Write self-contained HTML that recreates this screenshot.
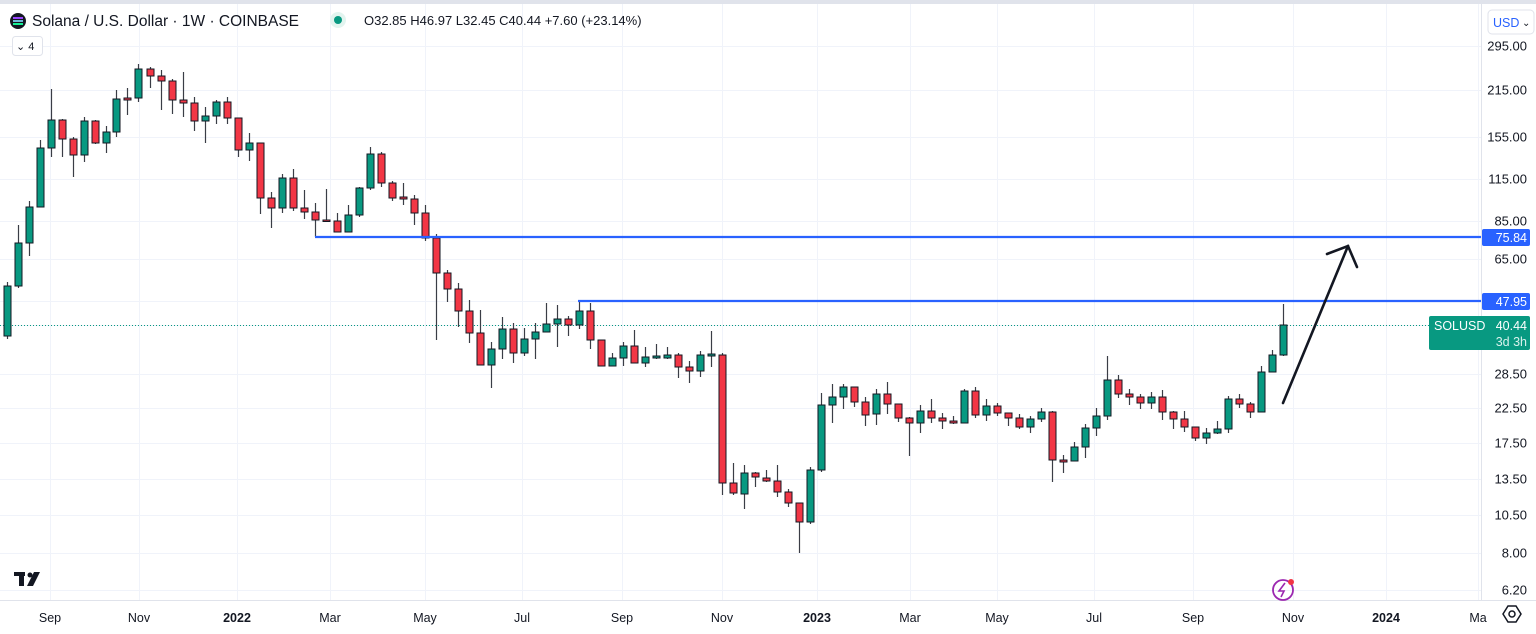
<!DOCTYPE html>
<html><head><meta charset="utf-8"><style>
html,body{margin:0;padding:0;background:#fff;width:1536px;height:634px;overflow:hidden;font-family:"Liberation Sans","DejaVu Sans",sans-serif}
</style></head><body>
<svg id="c" width="1536" height="634" xmlns="http://www.w3.org/2000/svg" style="position:absolute;left:0;top:0">
<rect x="0" y="0" width="1536" height="4" fill="#e0e3eb"/>
<g id="grid" stroke="#f0f3fa" stroke-width="1"></g>
<line x1="1481.5" y1="4" x2="1481.5" y2="600" stroke="#e0e3eb"/>
<line x1="0" y1="600.5" x2="1536" y2="600.5" stroke="#e0e3eb"/>
<line x1="0" y1="325.5" x2="1481" y2="325.5" stroke="#089981" stroke-dasharray="1,2" stroke-width="1"/>
<g id="candles"></g>
<line x1="315" y1="237" x2="1481" y2="237" stroke="#2962ff" stroke-width="2.2"/>
<line x1="578" y1="301" x2="1481" y2="301" stroke="#2962ff" stroke-width="2.2"/>
<g stroke="#131722" stroke-width="2.6" fill="none" stroke-linecap="round">
<line x1="1283" y1="403" x2="1348" y2="246"/>
<polyline points="1327,254 1348,246 1357,267"/>
</g>
<g id="labels" font-size="13" fill="#131722"></g>
<rect x="1482" y="229" width="48" height="17" rx="2" fill="#2962ff"/>
<text x="1527" y="242" font-size="12.5" fill="#fff" text-anchor="end">75.84</text>
<rect x="1482" y="293" width="48" height="17" rx="2" fill="#2962ff"/>
<text x="1527" y="306" font-size="12.5" fill="#fff" text-anchor="end">47.95</text>
<rect x="1429" y="316" width="101" height="34" rx="2" fill="#089981"/>
<text x="1434" y="330" font-size="12.5" fill="#fff">SOLUSD</text>
<text x="1527" y="330" font-size="12.5" fill="#fff" text-anchor="end">40.44</text>
<text x="1527" y="346" font-size="12.5" fill="#d8f2ec" text-anchor="end">3d 3h</text>
<rect x="1488" y="10" width="46" height="24" rx="4" fill="#fff" stroke="#e0e3eb"/>
<text x="1493" y="27" font-size="12.5" fill="#2962ff">USD</text>
<text x="1522" y="26" font-size="10" fill="#131722">⌄</text>
<circle cx="18" cy="21" r="8" fill="#131722"/>
<rect x="13" y="17" width="10" height="2" fill="#9945ff"/><rect x="13" y="20" width="10" height="2" fill="#6fb7d8"/><rect x="13" y="23" width="10" height="2" fill="#14f195"/>
<text x="32" y="26" font-size="15.5" fill="#131722">Solana / U.S. Dollar · 1W · COINBASE</text>
<circle cx="338" cy="20" r="8" fill="#e2f4ef"/><circle cx="338" cy="20" r="4" fill="#089981"/>
<text x="364" y="25" font-size="13" fill="#131722">O32.85 H46.97 L32.45 C40.44 +7.60 (+23.14%)</text>
<rect x="12.5" y="36.5" width="30" height="19" rx="3" fill="#fff" stroke="#e0e3eb"/>
<text x="16" y="50" font-size="11" fill="#131722">⌄ 4</text>
<g fill="#131722"><rect x="14" y="572" width="11" height="4"/><rect x="19" y="572" width="5" height="14"/><circle cx="30" cy="575" r="2.5"/><polygon points="34,572 40,572 33,586 27,586"/></g>
<circle cx="1283" cy="590" r="10" fill="none" stroke="#9c27b0" stroke-width="1.8"/>
<path d="M1285,583 L1279,591 L1284,591 L1281,597" stroke="#9c27b0" stroke-width="1.6" fill="none"/>
<circle cx="1291" cy="582" r="3" fill="#f23645"/>
<polygon points="1503,614 1508,606 1516,606 1521,614 1516,622 1508,622" fill="none" stroke="#131722" stroke-width="1.5"/>
<circle cx="1512" cy="614" r="3" fill="none" stroke="#131722" stroke-width="1.5"/>
</svg>
<script>
var ns="http://www.w3.org/2000/svg";
function el(p,t,a,txt){var e=document.createElementNS(ns,t);for(var k in a)e.setAttribute(k,a[k]);if(txt)e.textContent=txt;p.appendChild(e);return e;}
var grid=document.getElementById('grid'),lab=document.getElementById('labels'),cg=document.getElementById('candles');
var prices=[[295,46],[215,90],[155,137],[115,179],[85,221],[65,259],[28.5,374],[22.5,408],[17.5,443],[13.5,479],[10.5,515],[8,553],[6.2,590]];
var gy=[46,90,137,179,221,259,301,325,374,408,443,479,515,553,590];
gy.forEach(function(y){el(grid,'line',{x1:0,x2:1481,y1:y+.5,y2:y+.5});});
prices.forEach(function(p){el(lab,'text',{x:1527,y:p[1]+4.5,'text-anchor':'end','font-size':'13'},p[0].toFixed(2));});
var months=[["Sep",50],["Nov",139],["2022",237,1],["Mar",330],["May",425],["Jul",522],["Sep",622],["Nov",722],["2023",817,1],["Mar",910],["May",997],["Jul",1094],["Sep",1193],["Nov",1293],["2024",1386,1],["Ma",1478]];
months.forEach(function(m){el(grid,'line',{x1:m[1]+.5,x2:m[1]+.5,y1:4,y2:600});
el(lab,'text',{x:m[1],y:622,'text-anchor':'middle','font-size':'12.5','font-weight':m[2]?'bold':'normal'},m[0]);});
var d="7,286,336,282,339,g;18,243,286,225,288,g;29,207,243,201,256,g;40,148,207,140,207,g;51,120,148,89,157,g;62,120,139,119,157,r;73,139,155,137,177,r;84,121,155,117,162,g;95,121,143,120,144,r;106,132,143,126,153,g;116,99,132,90,137,g;127,98,100,88,115,r;138,69,98,64,102,g;150,69,76,67,88,r;161,76,81,70,110,r;172,81,100,79,114,r;183,100,103,72,117,r;194,103,121,97,131,r;205,116,121,107,143,g;216,102,116,100,124,g;227,102,118,97,124,r;238,118,150,118,157,r;249,143,150,133,161,g;260,143,198,143,214,r;271,198,208,192,228,r;282,178,208,174,213,g;293,178,208,169,211,r;304,208,212,190,219,r;315,212,220,203,237,r;326,220,221,189,221,r;337,221,232,213,232,r;348,215,232,205,232,g;359,188,215,187,217,g;370,154,188,147,190,g;381,154,183,152,187,r;392,183,198,181,201,r;403,197,199,183,205,r;414,199,213,195,225,r;425,213,238,205,241,r;436,238,273,234,340,r;447,273,289,270,302,r;458,289,311,283,327,r;469,311,333,300,343,r;480,333,365,310,365,r;491,349,365,342,388,g;502,329,349,317,359,g;513,329,353,323,363,r;524,339,353,328,356,g;535,332,339,323,359,g;546,324,332,303,332,g;557,319,324,305,347,g;568,319,325,316,336,r;579,311,325,301,329,g;590,311,340,303,349,r;601,340,366,340,366,r;612,358,366,353,366,g;623,346,358,342,366,g;634,346,363,330,363,r;645,357,363,347,367,g;656,356,358,344,359,g;667,355,358,347,359,g;678,355,367,353,378,r;689,367,371,361,383,r;700,355,371,351,377,g;711,354,356,331,367,g;722,355,483,353,495,r;733,483,493,463,495,r;744,473,494,465,509,g;755,473,477,472,487,r;766,478,481,470,482,r;777,481,492,465,497,r;788,492,503,489,507,r;799,503,522,503,553,r;810,470,522,467,524,g;821,405,470,393,472,g;832,397,405,384,423,g;843,387,397,384,409,g;854,387,402,387,407,r;865,402,415,397,426,r;876,394,414,389,425,g;887,394,404,382,414,r;898,404,418,404,422,r;909,418,423,417,456,r;920,411,423,405,433,g;931,411,418,399,423,r;942,418,421,413,429,r;953,421,423,416,424,r;964,391,423,389,423,g;975,391,415,387,418,r;986,406,415,399,421,g;997,406,413,403,416,r;1008,413,418,413,426,r;1019,418,427,414,429,r;1030,419,427,416,433,g;1041,412,419,408,422,g;1052,412,460,411,482,r;1063,460,462,455,473,r;1074,447,461,442,461,g;1085,428,447,424,458,g;1096,416,428,408,436,g;1107,380,416,356,420,g;1118,380,394,375,398,r;1129,394,397,389,405,r;1140,397,403,394,409,r;1151,397,403,392,409,g;1162,397,412,390,420,r;1173,412,419,411,429,r;1184,419,427,411,432,r;1195,427,438,427,441,r;1206,433,438,428,444,g;1217,429,433,421,434,g;1228,399,429,396,433,g;1239,399,404,394,408,r;1250,404,412,402,418,r;1261,372,412,366,412,g;1272,355,372,350,372,g;1283,325,355,304,356,g";
d.split(';').forEach(function(s){var a=s.split(','),x=+a[0],t=+a[1],b=+a[2],h=+a[3],l=+a[4],g=a[5]=='g';
el(cg,'line',{x1:x+.5,x2:x+.5,y1:h,y2:l,stroke:'#3a3d46','stroke-width':1.2});
var hh=Math.max(b-t,1.5);
el(cg,'rect',{x:x-3,y:t,width:7,height:hh,fill:g?'#089981':'#f23645',stroke:'#131722','stroke-width':1});});
</script>
</body></html>
